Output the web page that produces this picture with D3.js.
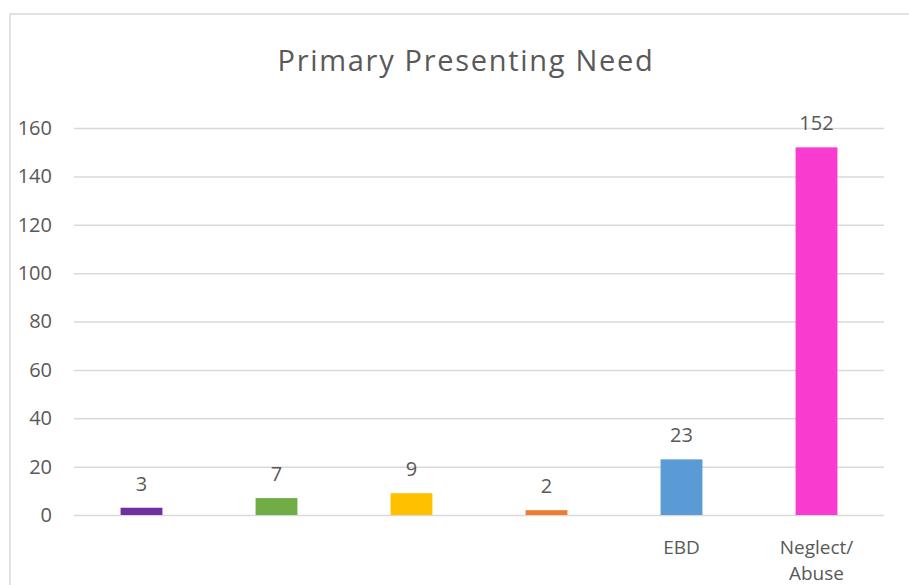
<!DOCTYPE html>
<html><head><meta charset="utf-8">
<script src="https://cdn.jsdelivr.net/npm/d3@7"></script>
<style>body{margin:0;background:#fff}svg{display:block}text{font-family:"Open Sans",sans-serif;fill:#595959}</style>
</head><body>
<svg id="c" width="909" height="585"></svg>
<script>
const title = "Primary Presenting Need";
const categories = ["c1","c2","c3","c4","EBD","Neglect/Abuse"];
const categoryLabels = [[""],[""],[""],[""],["EBD"],["Neglect/","Abuse"]];
const values = [3, 7, 9, 2, 23, 152];
const colors = ["#7030a0","#70ad47","#ffc000","#ed7d31","#5b9bd5","#fa3bd0"];
const yTicks = [0,20,40,60,80,100,120,140,160];

const svg = d3.select("#c");
svg.append("rect").attr("x",10).attr("y",14).attr("width",920).attr("height",600)
  .attr("fill","none").attr("stroke","#d9d9d9").attr("stroke-width",1.5);

const m = {left:74, right:884, top:128, bottom:515};
const x = d3.scaleBand().domain(categories).range([m.left,m.right]).paddingInner(0.69).paddingOuter(0.345);
const y = d3.scaleLinear().domain([0,160]).range([m.bottom,m.top]);

svg.append("text").attr("x",466).attr("y",71).attr("text-anchor","middle")
  .style("font-size","29px").style("letter-spacing","1.7px").text(title);

const ya = svg.append("g").attr("transform",`translate(${m.left},0)`)
  .call(d3.axisLeft(y).tickValues(yTicks).tickSize(-(m.right-m.left)).tickPadding(22));
ya.select(".domain").remove();
ya.selectAll(".tick line").attr("stroke","#d9d9d9").attr("stroke-width",1.5);
ya.selectAll(".tick text").style("font-size","20px").attr("fill","#595959").style("font-family","'Open Sans',sans-serif");

svg.selectAll("rect.bar").data(values).join("rect").attr("class","bar")
  .attr("x",(d,i)=>x(categories[i])).attr("width",x.bandwidth())
  .attr("y",d=>y(d)).attr("height",d=>y(0)-y(d)).attr("fill",(d,i)=>colors[i]);

svg.selectAll("text.val").data(values).join("text").attr("class","val")
  .attr("x",(d,i)=>x(categories[i])+x.bandwidth()/2).attr("y",d=>y(d)-17)
  .attr("text-anchor","middle").style("font-size","20px").text(d=>d);

categories.forEach((c,i)=>{
  const t = svg.append("text").attr("x",x(c)+x.bandwidth()/2).attr("y",554)
    .attr("text-anchor","middle").style("font-size","19px");
  categoryLabels[i].forEach((l,j)=>t.append("tspan").attr("x",x(c)+x.bandwidth()/2).attr("dy",j?26:0).text(l));
});
</script></body></html>
